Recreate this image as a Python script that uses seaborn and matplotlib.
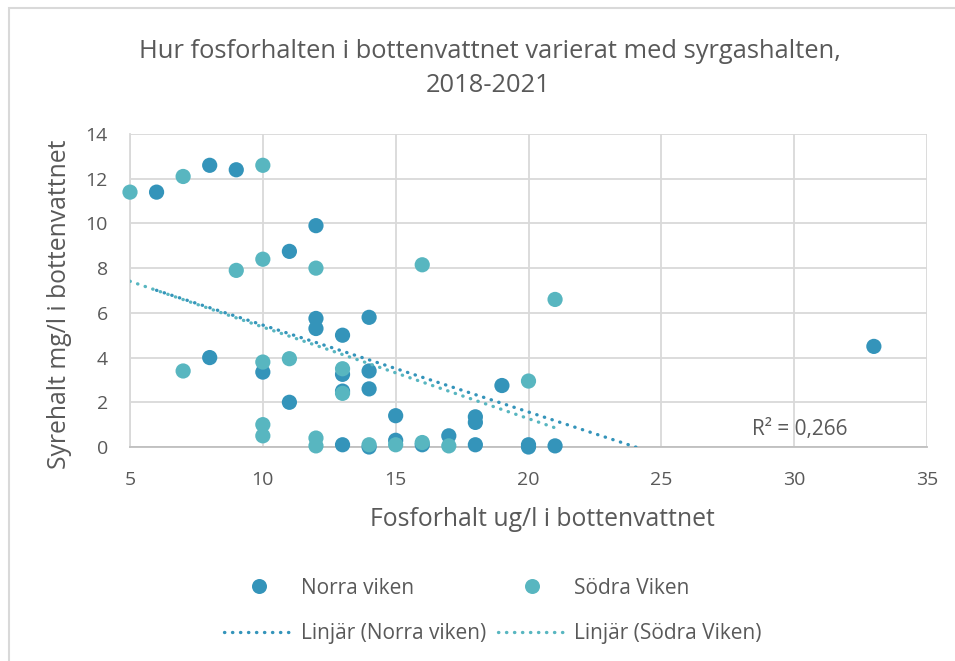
import numpy as np
import pandas as pd
import matplotlib
matplotlib.use("Agg")
import matplotlib.pyplot as plt
import seaborn as sns
from matplotlib.lines import Line2D
from matplotlib.patches import Rectangle

# Values
norra_x = [6, 8, 9, 12, 11, 12, 12, 13, 14, 8, 10, 13, 13, 14, 14, 11, 13, 14,
           15, 15, 16, 17, 18, 18, 18, 19, 20, 20, 21, 33]
norra_y = [11.4, 12.6, 12.4, 9.9, 8.75, 5.75, 5.3, 5.0, 5.8, 4.0, 3.35, 3.25, 2.5,
           3.4, 2.6, 2.0, 0.1, 0.0, 1.4, 0.3, 0.1, 0.5, 1.35, 1.1, 0.1, 2.75, 0.1,
           0.0, 0.05, 4.5]
sodra_x = [5, 7, 10, 9, 10, 12, 7, 10, 11, 13, 13, 10, 10, 12, 12, 14, 15, 16,
           16, 17, 20, 21]
sodra_y = [11.4, 12.1, 12.6, 7.9, 8.4, 8.0, 3.4, 3.8, 3.95, 3.5, 2.4, 1.0, 0.5,
           0.4, 0.05, 0.1, 0.1, 8.15, 0.2, 0.05, 2.95, 6.6]
series_names = ["Norra viken", "Södra Viken"]
x_ticks = [5, 10, 15, 20, 25, 30, 35]
y_ticks = [0, 2, 4, 6, 8, 10, 12, 14]
r2_label = "R² = 0,266"

df = pd.concat([
    pd.DataFrame({"fosfor": norra_x, "syre": norra_y, "plats": series_names[0]}),
    pd.DataFrame({"fosfor": sodra_x, "syre": sodra_y, "plats": series_names[1]}),
])

colors = {series_names[0]: "#3494BA", series_names[1]: "#58B6C0"}
text_col = "#595959"
grid_col = "#D9D9D9"

sns.set_style("white")
plt.rcParams["font.family"] = ["Open Sans", "DejaVu Sans"]

fig = plt.figure(figsize=(9.55, 6.61), dpi=100)
ax = fig.add_axes([130 / 955, 1 - 447 / 661, 797 / 955, 313 / 661])

# scatter points (not clipped, as in Excel they overlap the axis)
sns.scatterplot(data=df, x="fosfor", y="syre", hue="plats", palette=colors,
                s=120, linewidth=0, ax=ax, legend=False, clip_on=False, zorder=3)

# linear trend lines
dot_style = (0, (0.1, 2.3))
for name in series_names:
    sub = df[df["plats"] == name]
    sns.regplot(data=sub, x="fosfor", y="syre", scatter=False, ci=None,
                truncate=True, ax=ax,
                line_kws=dict(color=colors[name], lw=2.4, ls=dot_style,
                              dash_capstyle="round", zorder=4))

ax.set_xlim(5, 35)
ax.set_ylim(0, 14)
ax.set_xticks(x_ticks)
ax.set_yticks(y_ticks)
ax.grid(True, color=grid_col, lw=1.3)
ax.set_axisbelow(True)
for side in ["top", "right"]:
    ax.spines[side].set_visible(False)
ax.spines["left"].set_color(grid_col)
ax.spines["left"].set_linewidth(1.3)
ax.spines["bottom"].set_color("#BFBFBF")
ax.spines["bottom"].set_linewidth(1.3)
ax.tick_params(axis="both", length=0, labelsize=14, labelcolor=text_col)
ax.tick_params(axis="y", pad=16)
ax.tick_params(axis="x", pad=17)

ax.set_xlabel("Fosforhalt ug/l i bottenvattnet", fontsize=17.8, color=text_col)
ax.set_ylabel("Syrehalt mg/l i bottenvattnet", fontsize=17.8, color=text_col)
ax.xaxis.set_label_coords((542 - 130) / 797, -(519 - 447) / 313)
ax.yaxis.set_label_coords(-(130 - 60) / 797, (447 - 304) / 313)
ax.xaxis.label.set_va("center")
ax.yaxis.label.set_va("center")

ax.text(30.2, 0.8, r2_label, ha="center", va="center", fontsize=15, color=text_col)

fig.text(490 / 955, 1 - 51 / 661,
         "Hur fosforhalten i bottenvattnet varierat med syrgashalten,",
         ha="center", va="center", fontsize=18.4, color=text_col)
fig.text(488 / 955, 1 - 86 / 661, "2018-2021",
         ha="center", va="center", fontsize=18.4, color=text_col)

handles = [
    Line2D([], [], ls="none", marker="o", ms=10.8, mew=0, color=colors[series_names[0]]),
    Line2D([], [], color=colors[series_names[0]], lw=2.4, ls=dot_style, dash_capstyle="round"),
    Line2D([], [], ls="none", marker="o", ms=10.8, mew=0, color=colors[series_names[1]]),
    Line2D([], [], color=colors[series_names[1]], lw=2.4, ls=dot_style, dash_capstyle="round"),
]
labels = [series_names[0], f"Linjär ({series_names[0]})",
          series_names[1], f"Linjär ({series_names[1]})"]
leg = fig.legend(handles, labels, ncol=2, loc="center",
                 bbox_to_anchor=(493 / 955, 1 - 611 / 661), frameon=False,
                 fontsize=15, handlelength=3.3, handletextpad=0.38,
                 columnspacing=0.55, labelspacing=1.2, labelcolor=text_col,
                 borderpad=0, borderaxespad=0)

# light chart border like the Excel chart area
fig.patches.append(Rectangle((8.5 / 955, -0.1), 2.0, 1.1 - 8.5 / 661,
                             transform=fig.transFigure, fill=False,
                             edgecolor=grid_col, lw=1.5))

fig.savefig("out.png", dpi=100)
